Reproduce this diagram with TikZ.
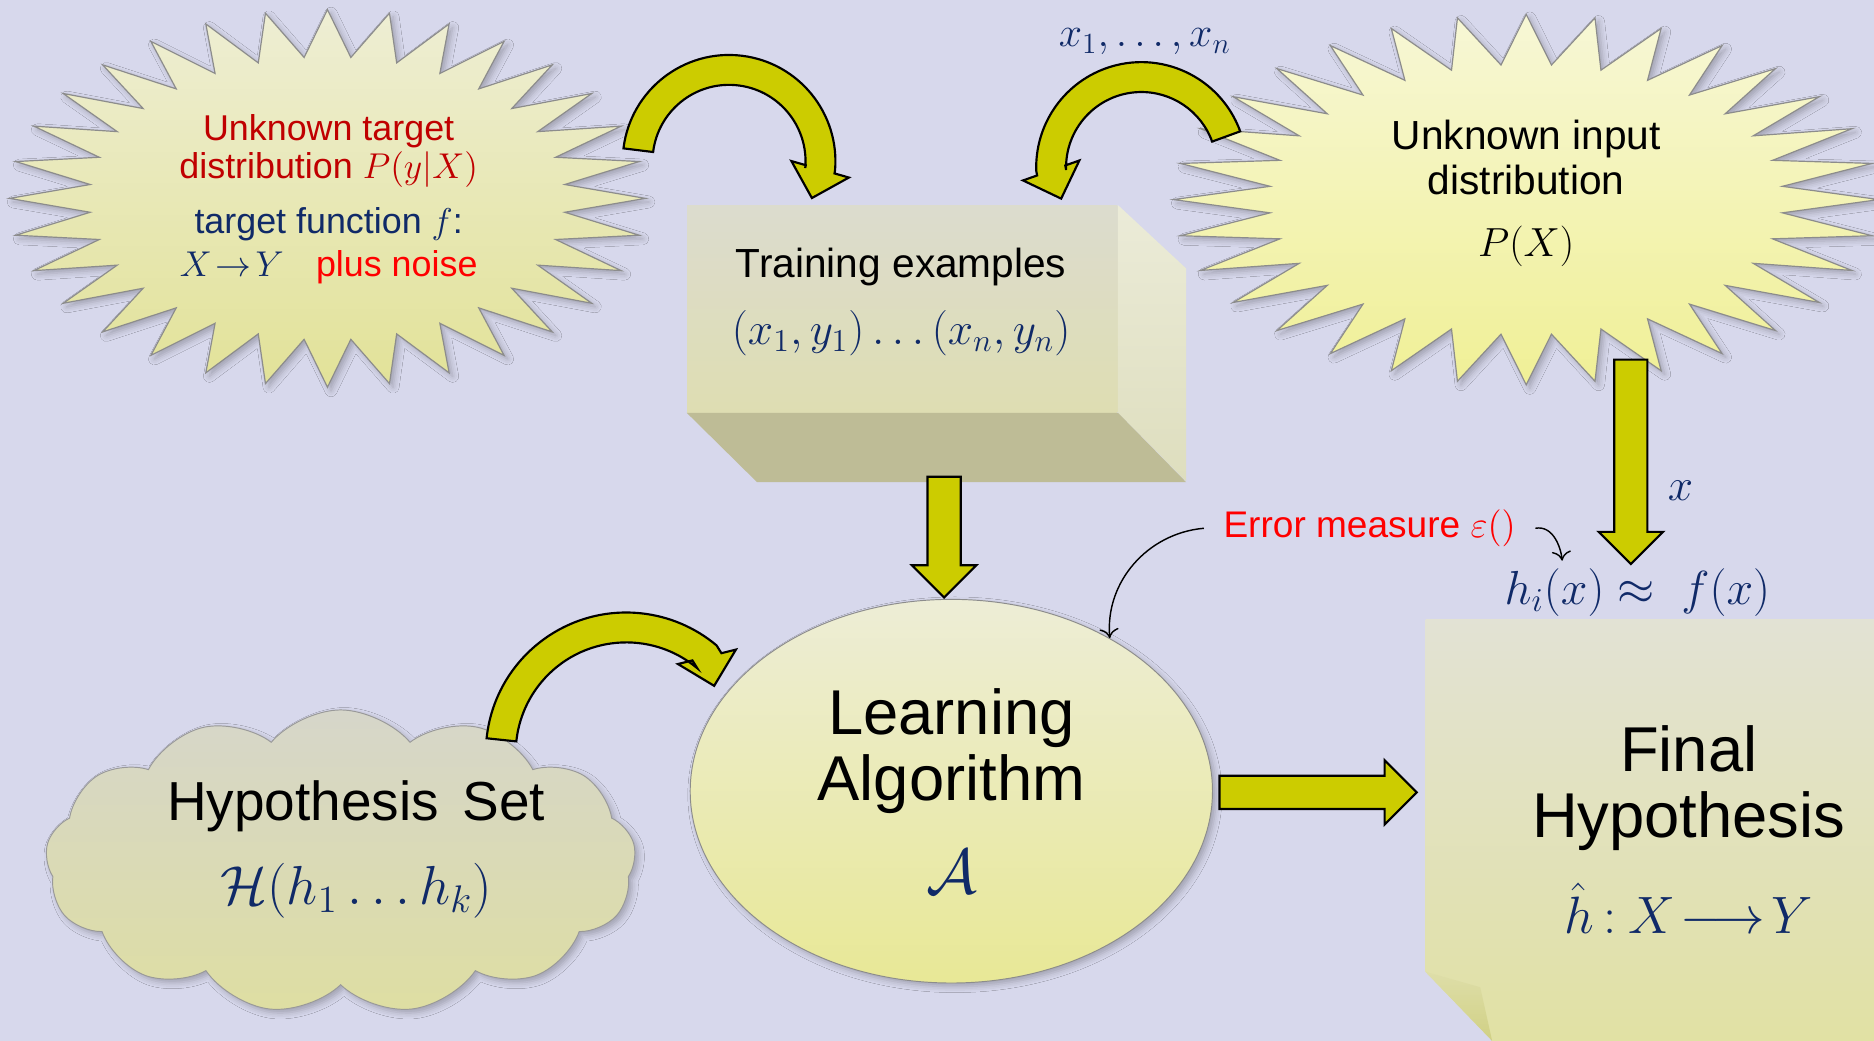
\RequirePackage{fix-cm}
\documentclass[tikz,border=0pt]{standalone}
\usepackage{fontspec}
\setmainfont{Liberation Sans}
\usetikzlibrary{calc, arrows.meta, shapes.geometric, shapes.symbols, shapes.arrows, shadows.blur}

\definecolor{bg}{RGB}{215,216,236}
\definecolor{ylw}{RGB}{204,204,0}
\definecolor{navy}{RGB}{16,42,104}
\definecolor{dred}{RGB}{192,0,0}
\definecolor{bred}{RGB}{255,0,0}
\definecolor{burstLtop}{RGB}{238,238,212}
\definecolor{burstLbot}{RGB}{226,226,152}
\definecolor{burstRtop}{RGB}{247,247,214}
\definecolor{burstRbot}{RGB}{240,240,150}
\definecolor{faceTop}{RGB}{220,220,206}
\definecolor{faceBot}{RGB}{222,221,178}
\definecolor{faceSide}{RGB}{222,222,190}
\definecolor{faceLow}{RGB}{190,188,150}
\definecolor{learnTop}{RGB}{237,237,214}
\definecolor{learnBot}{RGB}{232,232,150}
\definecolor{cloudTop}{RGB}{214,214,202}
\definecolor{cloudBot}{RGB}{222,222,162}
\definecolor{noteTop}{RGB}{226,226,212}
\definecolor{noteBot}{RGB}{225,225,160}
\definecolor{flap}{RGB}{208,208,132}

% half shaft width, half head width and head length of the bent arrows
\newcommand{\shaftw}{12.5}
\newcommand{\headw}{25}
\newcommand{\headl}{25}

% bent block arrow: centre, mid radius, start angle, end angle, head tilt, turn (1 ccw, -1 cw)
\newcommand{\bendarrow}[6]{%
  \pgfmathsetmacro{\bendout}{#2+\shaftw}%
  \pgfmathsetmacro{\bendin}{#2-\shaftw}%
  \pgfmathsetmacro{\bendhd}{#4+#5}%
  \pgfmathsetmacro{\bendhb}{#4+#5+180}%
  \pgfmathsetmacro{\bendtip}{#4+#5+90*#6}%
  \path[bendbody] ($(#1)+(#3:\bendout)$)
    arc[start angle=#3, end angle=#4, radius=\bendout]
    -- ($(#1)+(#4:#2)+(\bendhd:\shaftw)$)
    -- ($(#1)+(#4:#2)+(\bendhd:\headw)$)
    -- ($(#1)+(#4:#2)+(\bendtip:\headl)$)
    -- ($(#1)+(#4:#2)+(\bendhb:\headw)$)
    -- ($(#1)+(#4:#2)+(\bendhb:\shaftw)$)
    -- ($(#1)+(#4:\bendin)$)
    arc[start angle=#4, end angle=#3, radius=\bendin] -- cycle;
}

% 32-point star: centre x, centre y, x radius, y radius, valley ratio
\newcommand{\burstpath}[5]{({#1+#3},{#2})
  \foreach \k in {1,...,63}{
    -- ({#1+#3*(1-(1-#5)*mod(\k,2))*cos(\k*5.625)},{#2+#4*(1-(1-#5)*mod(\k,2))*sin(\k*5.625)})
  } -- cycle}

\begin{document}
\begin{tikzpicture}[x=0.5pt, y=0.5pt,
  burst/.style={draw=black!45, line width=0.5pt},
  softshadow/.style={blur shadow={shadow xshift=1.5pt, shadow yshift=-1.5pt, shadow blur radius=2.5pt, shadow opacity=25}},
  blockarrow/.style={single arrow, draw=black, line width=0.9pt, fill=ylw, inner sep=6.5pt,
    single arrow head extend=6.5pt, single arrow tip angle=90, anchor=tail},
  bendbody/.style={draw=black, line width=0.9pt, fill=ylw},
  thinarrow/.style={-{To[length=4pt, width=8pt]}, line width=0.6pt},
  mathlbl/.style={text=navy, inner sep=0pt}
]
\useasboundingbox (0,0) rectangle (1568,-871);
\fill[bg] (0,0) rectangle (1568,-871);

% the two unknown distributions
\path[burst, softshadow, top color=burstLtop, bottom color=burstLbot] \burstpath{274}{-166}{266}{158}{0.75};
\path[burst, softshadow, top color=burstRtop, bottom color=burstRbot] \burstpath{1277}{-167}{295}{155}{0.73};

\node[align=center, font=\fontsize{15}{15.8}\selectfont] (target) at (275,-167)
  {\textcolor{dred}{Unknown target}\\
   \textcolor{dred}{distribution $P(y|X)$}\\[7.2pt]
   \textcolor{navy}{target function $f$:}\\[2.2pt]
   \textcolor{navy}{$X\!\to\! Y$}\hspace{0.9em}\textcolor{bred}{plus noise}};
\node[align=center, font=\fontsize{17}{18.7}\selectfont] (input) at (1277,-162)
  {Unknown input\\distribution\\[7.3pt]$P(X)$};

% training examples box
\node[top color=faceTop, bottom color=faceBot, minimum width=180pt, minimum height=86.5pt, inner sep=0pt] (train) at (755,-258.5) {};
\path[top color=faceSide!60!white, bottom color=faceSide] (train.north east) -- ++(57,-53) -- ++(0,-178) -- (train.south east) -- cycle;
\fill[faceLow] (train.south west) -- (train.south east) -- ++(57,-58) -- ++(-359,0) -- cycle;
\node[align=center, font=\fontsize{17}{18}\selectfont] (traintxt) at (754,-252.5)
  {Training examples\\[10pt]{\fontsize{19}{20}\selectfont\color{navy}$(x_1, y_1) \ldots (x_n, y_n)$}};

% hypothesis set
\node[cloud, cloud puffs=13, cloud puff arc=100, aspect=2, minimum width=247pt, minimum height=127pt,
  draw=black!40, top color=cloudTop, bottom color=cloudBot, softshadow] (hyp) at (285,-721) {};
\node[align=center, font=\fontsize{23}{24}\selectfont] (hyptxt) at (298,-711)
  {Hypothesis\hspace{0.15em} Set\\[11pt]{\color{navy}$\mathcal{H}(h_1 \ldots h_k)$}};

% learning algorithm
\node[ellipse, draw=black!45, top color=learnTop, bottom color=learnBot, minimum width=218.5pt, minimum height=160.5pt,
  softshadow, align=center, font=\fontsize{26.5}{27.5}\selectfont] (learn) at (796,-662)
  {Learning\\Algorithm\\[11.5pt]{\color{navy}$\mathcal{A}$}};

% final hypothesis note with folded corner
\node[anchor=north west, minimum width=200pt, minimum height=190pt, top color=noteTop, bottom color=noteBot] (final) at (1192.5,-518) {};
\fill[bg] (1190,-810.4) -- (1255,-877.7) -- (1190,-877.7) -- cycle;
\path[top color=flap!70!white, bottom color=flap] (1192.5,-813) -- (1238.5,-826) -- (1248.5,-871) -- cycle;
\node[align=center, font=\fontsize{26.5}{27.5}\selectfont] (finaltxt) at (1413,-694)
  {Final\\Hypothesis\\[12.5pt]{\fontsize{22}{23}\selectfont\color{navy}$\hat{h}\mkern3mu{:}\mkern4mu X\!\longrightarrow\! Y$}};

% straight block arrows
\node[blockarrow, rotate=-90, minimum height=50.5pt] (toLearn) at (790,-398) {};
\node[blockarrow, minimum height=82.5pt] (toFinal) at (1019.5,-663) {};
\node[blockarrow, rotate=-90, minimum height=85.5pt] (toApprox) at (1364.5,-300) {};

% bent block arrows
\coordinate (bendL) at (610,-135);
\coordinate (bendR) at (955,-140);
\coordinate (bendH) at (524,-630);
\bendarrow{bendL}{76.5}{173}{-5}{-11}{-1}
\bendarrow{bendR}{75.5}{20}{182}{17.5}{1}
\bendarrow{bendH}{105}{174}{50}{-36}{-1}

% labels
\node[mathlbl, font=\fontsize{17.5}{18}\selectfont] (xs) at (958,-35) {$x_1, \ldots, x_n$};
\node[mathlbl, font=\fontsize{19}{20}\selectfont] (xlbl) at (1406,-411) {$x$};
\node[mathlbl, font=\fontsize{20}{21}\selectfont] (approx) at (1370,-495.5) {$h_i(x) \approx\; f(x)$};
\node[text=bred, font=\fontsize{15.5}{16}\selectfont, inner xsep=8pt] (err) at (1146,-442) {Error measure $\varepsilon()$};

\draw[thinarrow] (err.west) to[out=185, in=95] (learn.44);
\draw[thinarrow, shorten >=3pt] (err.east) to[out=10, in=95] ($(approx.north west)!0.22!(approx.north east)$);
\end{tikzpicture}
\end{document}
